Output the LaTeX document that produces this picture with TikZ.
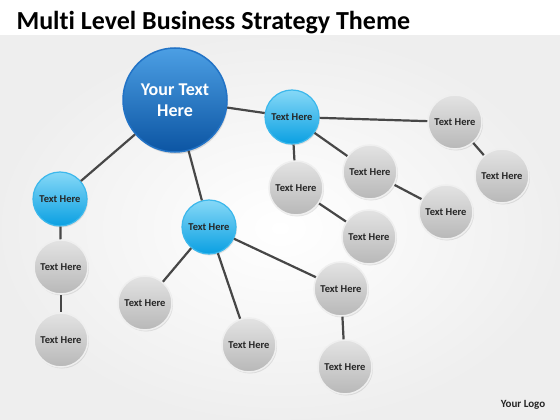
\documentclass[tikz,border=0pt]{standalone}
\usepackage{fontspec}
\setmainfont[Ligatures=NoCommon]{Carlito}
\usetikzlibrary{shadows}
\definecolor{bigtop}{HTML}{4C9FE4}
\definecolor{bigbot}{HTML}{0C55A3}
\definecolor{bigrim}{HTML}{2273C6}
\definecolor{midtop}{HTML}{86D8F7}
\definecolor{midbot}{HTML}{0AA0E2}
\definecolor{midrim}{HTML}{3CB8EC}
\definecolor{gtop}{HTML}{E3E3E3}
\definecolor{gbot}{HTML}{B8B8B8}
\definecolor{grim}{HTML}{EFEFEF}
\definecolor{linkc}{HTML}{474747}
\tikzset{
  bigball/.style={circle, minimum size=104pt, inner sep=0pt, top color=bigtop, bottom color=bigbot, draw=bigrim, line width=1.5pt, text=white, align=center, font=\bfseries\fontsize{18}{21}\selectfont, drop shadow={opacity=0.25, shadow xshift=1pt, shadow yshift=-2pt}},
  midball/.style={circle, minimum size=54pt, inner sep=0pt, top color=midtop, bottom color=midbot, draw=midrim, line width=1.2pt, text=black!85, font=\bfseries\fontsize{10.5}{12}\selectfont, drop shadow={opacity=0.2, shadow xshift=1pt, shadow yshift=-1.5pt}},
  grayball/.style={circle, minimum size=54pt, inner sep=0pt, top color=gtop, bottom color=gbot, draw=grim, line width=1.5pt, text=black!85, font=\bfseries\fontsize{10.5}{12}\selectfont, drop shadow={opacity=0.2, shadow xshift=1pt, shadow yshift=-1.5pt}},
  link/.style={draw=linkc, line width=2.2pt}
}
\begin{document}
\begin{tikzpicture}[x=1pt,y=-1pt]
\useasboundingbox (0,0) rectangle (560,420);
\fill[white] (0,0) rectangle (560,420);
\shade[inner color=white, outer color=gray!13] (0,36) rectangle (560,420);
\node[anchor=base west, font=\bfseries\fontsize{26}{26}\selectfont] (title) at (13,30) {Multi Level Business Strategy Theme};
\node[anchor=center, font=\bfseries\fontsize{11}{12}\selectfont, text=black!85] (logo) at (523,405) {Your Logo};
% nodes
\node[bigball] (big) at (175,100) {Your Text\\Here};
\node[midball] (a) at (292,117) {Text Here};
\node[midball] (b) at (60,199) {Text Here};
\node[midball] (c) at (209,227) {Text Here};
\node[grayball] (b1) at (61,267) {Text Here};
\node[grayball] (b2) at (61,340) {Text Here};
\node[grayball] (c1) at (145,303) {Text Here};
\node[grayball] (c2) at (249,345) {Text Here};
\node[grayball] (c3) at (341,289) {Text Here};
\node[grayball] (c4) at (345,367) {Text Here};
\node[grayball] (a1) at (296,188) {Text Here};
\node[grayball] (a2) at (370,172) {Text Here};
\node[grayball] (a3) at (455,122) {Text Here};
\node[grayball] (a4) at (502,176) {Text Here};
\node[grayball] (a5) at (446,212) {Text Here};
\node[grayball] (a6) at (369,237) {Text Here};
% links
\path[link] (big) -- (a);
\path[link] (big) -- (b);
\path[link] (big) -- (c);
\path[link] (a) -- (a1);
\path[link] (a) -- (a2);
\path[link] (a) -- (a3);
\path[link] (a3) -- (a4);
\path[link] (a2) -- (a5);
\path[link] (a1) -- (a6);
\path[link] (b) -- (b1);
\path[link] (b1) -- (b2);
\path[link] (c) -- (c1);
\path[link] (c) -- (c2);
\path[link] (c) -- (c3);
\path[link] (c3) -- (c4);
\end{tikzpicture}
\end{document}
